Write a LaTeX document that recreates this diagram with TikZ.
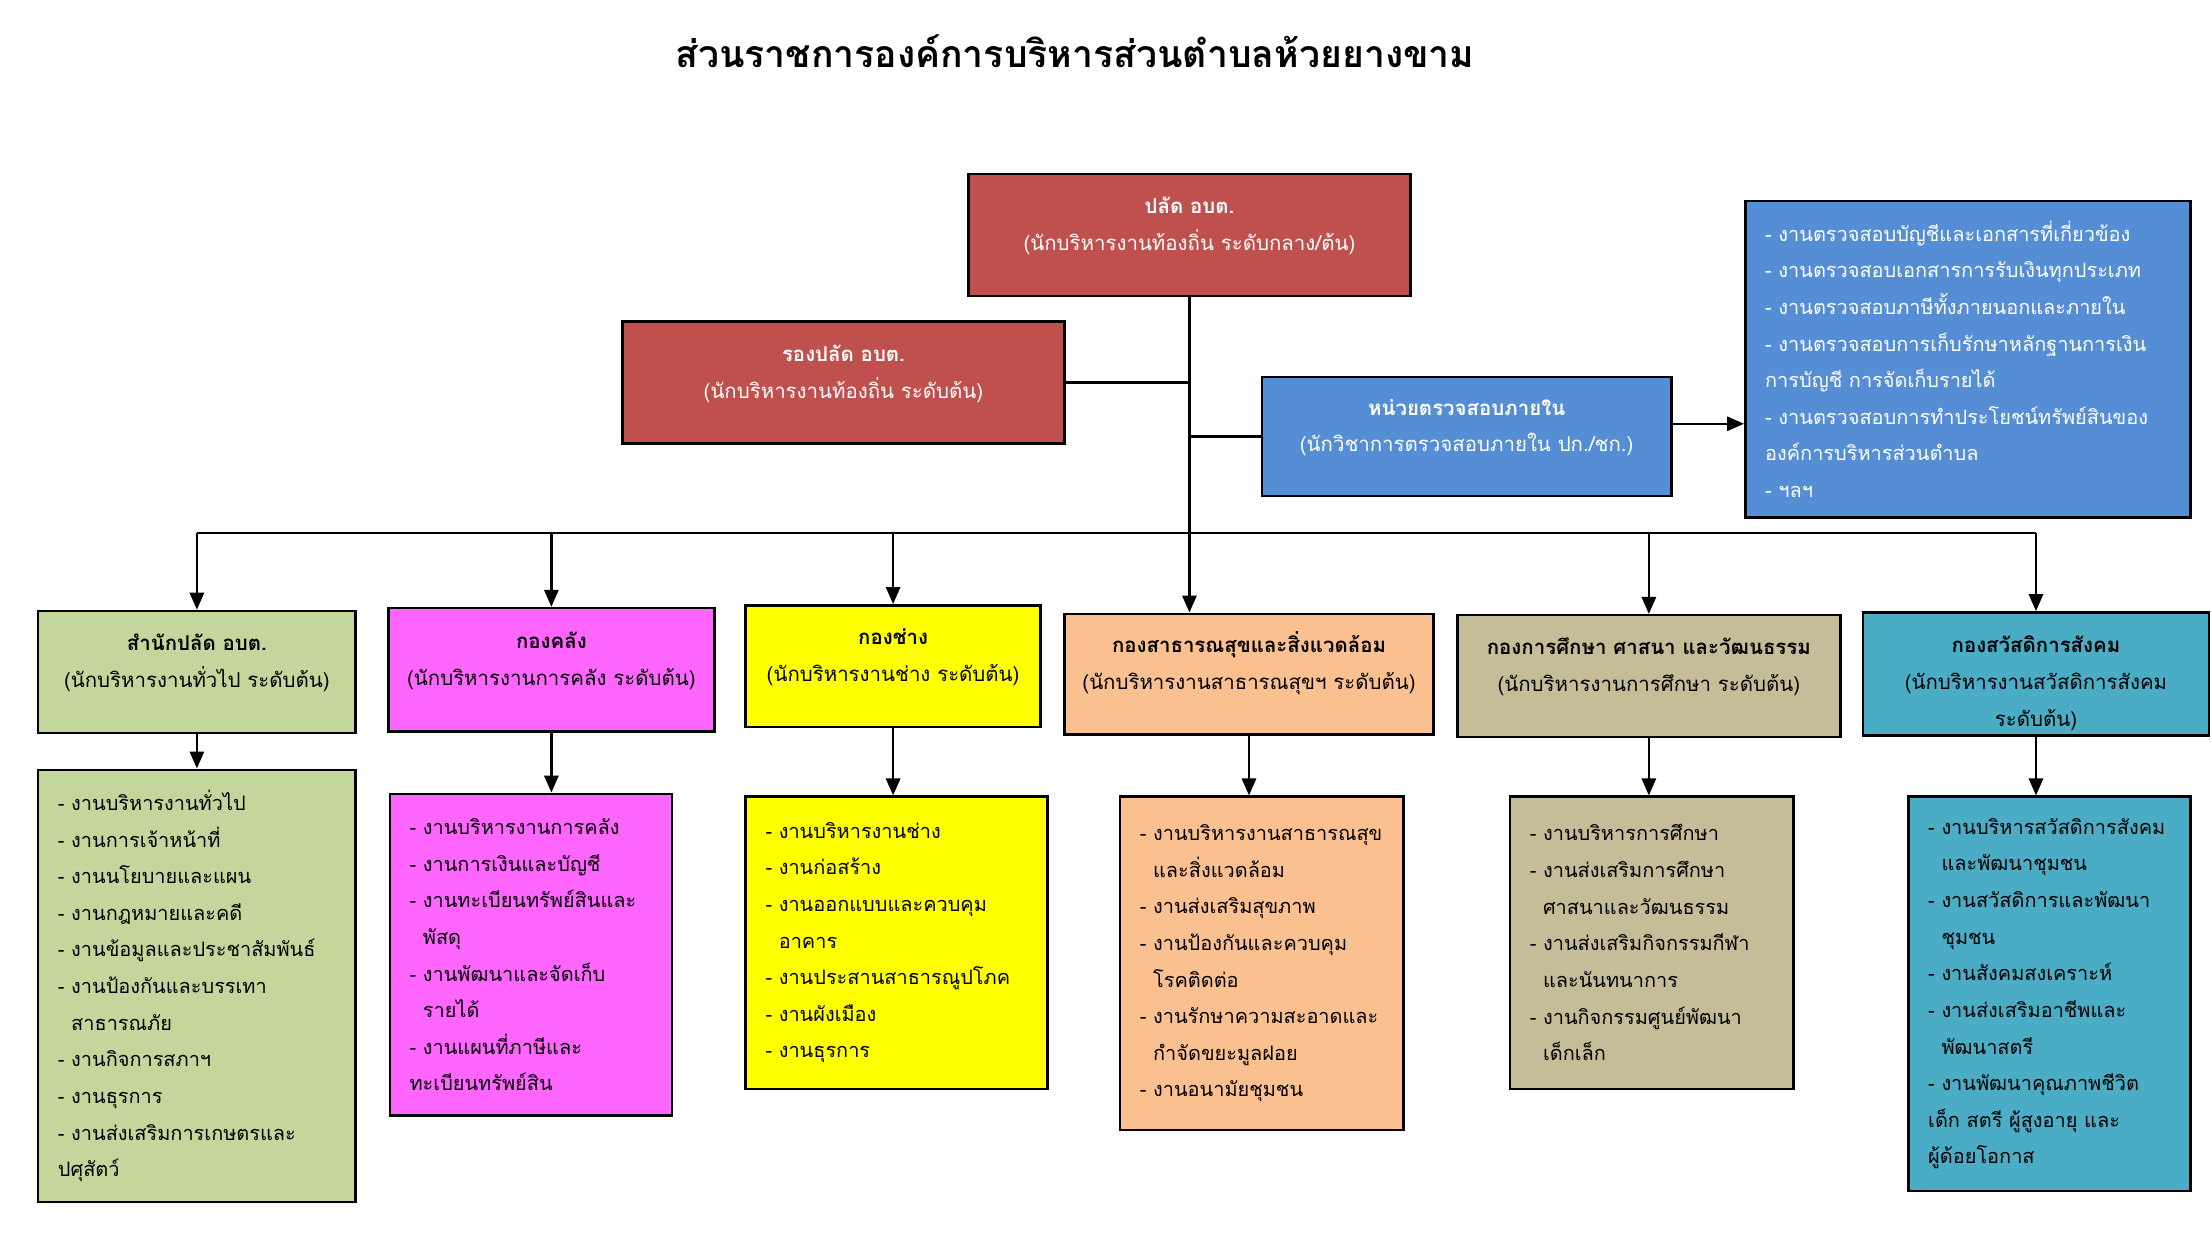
\documentclass[tikz,border=0pt]{standalone}
\usepackage{fontspec}
\setmainfont[Script=Thai]{Loma}
\usetikzlibrary{arrows.meta}

\definecolor{chiefred}{HTML}{C0504D}
\definecolor{auditblue}{HTML}{558ED5}
\definecolor{officegreen}{HTML}{C3D69B}
\definecolor{financepink}{HTML}{FF66FF}
\definecolor{worksyellow}{HTML}{FFFF00}
\definecolor{healthorange}{HTML}{FAC090}
\definecolor{eduKhaki}{HTML}{C4BD97}
\definecolor{welfareteal}{HTML}{4BACC6}

\newcommand{\ind}{\hphantom{-~}}

\tikzset{
  headbox/.style={draw=black, line width=1pt, anchor=north west, align=center,
    inner sep=0pt, text height=0.5cm, text depth=1.1cm,
    font=\fontsize{8.2}{14.7}\selectfont},
  listbox/.style={draw=black, line width=1pt, anchor=north west, align=left,
    inner xsep=0.28cm, inner ysep=0pt, font=\fontsize{8}{14.7}\selectfont},
  link/.style={line width=1pt},
  arrowlink/.style={line width=1pt, -{Triangle[length=0.24cm,width=0.2cm]}}
}

\begin{document}
\begin{tikzpicture}[x=0.02cm, y=-0.02cm]
  \useasboundingbox (0,0) rectangle (1560,886.5);
  %
  \node[font=\bfseries\fontsize{15}{18}\selectfont] (title) at (758,36)
    {ส่วนราชการองค์การบริหารส่วนตำบลห้วยยางขาม};
  %% top level
  \node[headbox, fill=chiefred, text=white, text width=6.24cm, minimum height=1.72cm]
    (palad) at (682,122) {\textbf{ปลัด อบต.}\\(นักบริหารงานท้องถิ่น ระดับกลาง/ต้น)};
  \node[headbox, fill=chiefred, text=white, text width=6.24cm, minimum height=1.72cm]
    (rongpalad) at (438,226) {\textbf{รองปลัด อบต.}\\(นักบริหารงานท้องถิ่น ระดับต้น)};
  \node[headbox, fill=auditblue, text=white, text width=5.78cm, minimum height=1.68cm]
    (audit) at (889,265) {\textbf{หน่วยตรวจสอบภายใน}\\(นักวิชาการตรวจสอบภายใน ปก./ชก.)};
  \node[listbox, fill=auditblue, text=white, text width=5.72cm, minimum height=4.46cm]
    (auditlist) at (1230,141) {-~งานตรวจสอบบัญชีและเอกสารที่เกี่ยวข้อง\\
      -~งานตรวจสอบเอกสารการรับเงินทุกประเภท\\
      -~งานตรวจสอบภาษีทั้งภายนอกและภายใน\\
      -~งานตรวจสอบการเก็บรักษาหลักฐานการเงิน\\
      การบัญชี การจัดเก็บรายได้\\
      -~งานตรวจสอบการทำประโยชน์ทรัพย์สินของ\\
      องค์การบริหารส่วนตำบล\\
      -~ฯลฯ};
  %% divisions
  \node[headbox, fill=officegreen, text width=4.48cm, minimum height=1.72cm]
    (office) at (26,430) {\textbf{สำนักปลัด อบต.}\\(นักบริหารงานทั่วไป ระดับต้น)};
  \node[headbox, fill=financepink, text width=4.60cm, minimum height=1.74cm]
    (finance) at (273,428) {\textbf{กองคลัง}\\(นักบริหารงานการคลัง ระดับต้น)};
  \node[headbox, fill=worksyellow, text width=4.16cm, minimum height=1.72cm]
    (works) at (525,426) {\textbf{กองช่าง}\\(นักบริหารงานช่าง ระดับต้น)};
  \node[headbox, fill=healthorange, text width=5.20cm, minimum height=1.70cm]
    (health) at (750,432) {\textbf{กองสาธารณสุขและสิ่งแวดล้อม}\\(นักบริหารงานสาธารณสุขฯ ระดับต้น)};
  \node[headbox, fill=eduKhaki, text width=5.40cm, minimum height=1.72cm]
    (edu) at (1027,433) {\textbf{กองการศึกษา ศาสนา และวัฒนธรรม}\\(นักบริหารงานการศึกษา ระดับต้น)};
  \node[headbox, fill=welfareteal, text width=4.88cm, minimum height=1.74cm]
    (welfare) at (1313,431) {\textbf{กองสวัสดิการสังคม}\\(นักบริหารงานสวัสดิการสังคม\\ระดับต้น)};
  %% task lists
  \node[listbox, fill=officegreen, text width=3.92cm, minimum height=6.10cm]
    (officelist) at (26,542) {-~งานบริหารงานทั่วไป\\
      -~งานการเจ้าหน้าที่\\
      -~งานนโยบายและแผน\\
      -~งานกฎหมายและคดี\\
      -~งานข้อมูลและประชาสัมพันธ์\\
      -~งานป้องกันและบรรเทา\\
      \ind สาธารณภัย\\
      -~งานกิจการสภาฯ\\
      -~งานธุรการ\\
      -~งานส่งเสริมการเกษตรและ\\
      ปศุสัตว์};
  \node[listbox, fill=financepink, text width=3.42cm, minimum height=4.54cm]
    (financelist) at (274,559) {-~งานบริหารงานการคลัง\\
      -~งานการเงินและบัญชี\\
      -~งานทะเบียนทรัพย์สินและ\\
      \ind พัสดุ\\
      -~งานพัฒนาและจัดเก็บ\\
      \ind รายได้\\
      -~งานแผนที่ภาษีและ\\
      ทะเบียนทรัพย์สิน};
  \node[listbox, fill=worksyellow, text width=3.70cm, minimum height=4.12cm]
    (workslist) at (525,561) {-~งานบริหารงานช่าง\\
      -~งานก่อสร้าง\\
      -~งานออกแบบและควบคุม\\
      \ind อาคาร\\
      -~งานประสานสาธารณูปโภค\\
      -~งานผังเมือง\\
      -~งานธุรการ};
  \node[listbox, fill=healthorange, text width=3.44cm, minimum height=4.70cm]
    (healthlist) at (789,561) {-~งานบริหารงานสาธารณสุข\\
      \ind และสิ่งแวดล้อม\\
      -~งานส่งเสริมสุขภาพ\\
      -~งานป้องกันและควบคุม\\
      \ind โรคติดต่อ\\
      -~งานรักษาความสะอาดและ\\
      \ind กำจัดขยะมูลฝอย\\
      -~งานอนามัยชุมชน};
  \node[listbox, fill=eduKhaki, text width=3.44cm, minimum height=4.12cm]
    (edulist) at (1064,561) {-~งานบริหารการศึกษา\\
      -~งานส่งเสริมการศึกษา\\
      \ind ศาสนาและวัฒนธรรม\\
      -~งานส่งเสริมกิจกรรมกีฬา\\
      \ind และนันทนาการ\\
      -~งานกิจกรรมศูนย์พัฒนา\\
      \ind เด็กเล็ก};
  \node[listbox, fill=welfareteal, text width=3.42cm, minimum height=5.56cm]
    (welfarelist) at (1345,561) {-~งานบริหารสวัสดิการสังคม\\
      \ind และพัฒนาชุมชน\\
      -~งานสวัสดิการและพัฒนา\\
      \ind ชุมชน\\
      -~งานสังคมสงเคราะห์\\
      -~งานส่งเสริมอาชีพและ\\
      \ind พัฒนาสตรี\\
      -~งานพัฒนาคุณภาพชีวิต\\
      เด็ก สตรี ผู้สูงอายุ และ\\
      ผู้ด้อยโอกาส};
  %% connectors
  \coordinate (busline) at (0,376);
  \draw[arrowlink] (palad.south) -- (palad.south |- health.north);
  \draw[link] (rongpalad.east) -- (rongpalad.east -| palad.south);
  \draw[link] (audit.west) -- (audit.west -| palad.south);
  \draw[arrowlink] ([yshift=0.18cm]audit.east) -- ([yshift=0.18cm]audit.east -| auditlist.west);
  \draw[link] (office.north |- busline) -- (welfare.north |- busline);
  \foreach \div in {office,finance,works,edu,welfare}
    \draw[arrowlink] (\div.north |- busline) -- (\div.north);
  \foreach \div in {office,finance,works,health,edu,welfare}
    \draw[arrowlink] (\div.south) -- (\div.south |- \div list.north);
\end{tikzpicture}
\end{document}
